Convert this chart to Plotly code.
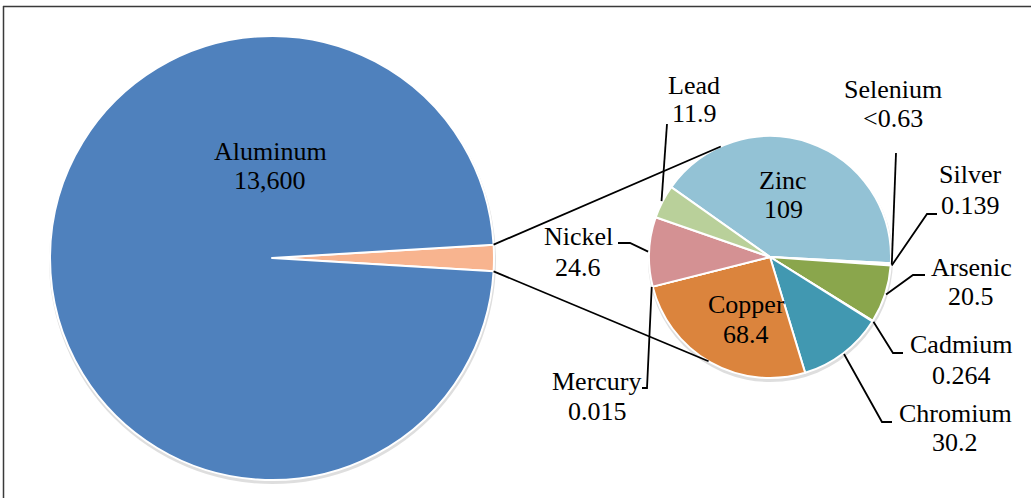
import math
import plotly.graph_objects as go

# ---------------- data ----------------
aluminum_label = "Aluminum"
aluminum_value = 13600
aluminum_text = "13,600"

detail_labels = ["Zinc", "Selenium", "Silver", "Arsenic", "Cadmium",
                 "Chromium", "Copper", "Mercury", "Nickel", "Lead"]
detail_values = [109, 0.63, 0.139, 20.5, 0.264, 30.2, 68.4, 0.015, 24.6, 11.9]
detail_text = ["109", "<0.63", "0.139", "20.5", "0.264",
               "30.2", "68.4", "0.015", "24.6", "11.9"]

# ---------------- layout constants (pixels) ----------------
W, H = 1031, 498
MAIN_C, MAIN_R = (272, 258), 222
SUB_C, SUB_R = (770, 257), 121
SUB_START = 144.7          # math angle (deg) where first detail slice starts
CONNECT_ANG = (114.0, 239.5)  # where connector lines meet the detail pie

main_colors = ["#F8B48F", "#4F81BD"]
detail_colors = ["#93C2D5", "#B7CFE0", "#9DB86B", "#8AA64C", "#C9D9A9",
                 "#4198B1", "#DB843D", "#E3A37C", "#D49193", "#B9D09A"]

FONT = "Liberation Serif"
FS = 26

# label positions: (center x, name y, value y) in pixels
label_pos = {
    "Aluminum": (270, 151, 180),
    "Zinc": (783, 180, 209),
    "Copper": (746, 304, 334),
    "Lead": (694, 85, 114),
    "Selenium": (893, 89, 118),
    "Silver": (970, 175, 205),
    "Arsenic": (971, 267, 296),
    "Cadmium": (961, 344, 375),
    "Chromium": (955, 413, 442),
    "Mercury": (597, 381, 411),
    "Nickel": (578, 237, 267),
}
# leader line bends (pixels), start point computed from slice angle
leaders = {
    "Lead": [(667, 124)],
    "Selenium": [(896, 153)],
    "Silver": [(927, 214), (937, 214)],
    "Arsenic": [(913, 275), (925, 275)],
    "Cadmium": [(893, 353), (903, 353)],
    "Chromium": [(882, 422), (892, 422)],
    "Mercury": [(647, 388), (642, 388)],
    "Nickel": [(630, 243), (618, 243)],
}


def fx(x):
    return x / W


def fy(y):
    return 1 - y / H


def dom(c, r):
    return dict(x=[fx(c[0] - r), fx(c[0] + r)], y=[fy(c[1] + r), fy(c[1] - r)])


def edge(c, r, ang):
    a = math.radians(ang)
    return (c[0] + r * math.cos(a), c[1] - r * math.sin(a))


other_total = sum(detail_values)
main_values = [other_total, aluminum_value]
main_total = sum(main_values)
other_span = 360 * other_total / main_total

fig = go.Figure()
fig.add_trace(go.Pie(
    labels=["Other", aluminum_label], values=main_values, sort=False,
    direction="clockwise", rotation=90 - other_span / 2,
    marker=dict(colors=main_colors, line=dict(color="white", width=2)),
    textinfo="none", domain=dom(MAIN_C, MAIN_R), showlegend=False,
))
fig.add_trace(go.Pie(
    labels=detail_labels, values=detail_values, sort=False,
    direction="clockwise", rotation=90 - SUB_START,
    marker=dict(colors=detail_colors, line=dict(color="white", width=2)),
    textinfo="none", domain=dom(SUB_C, SUB_R), showlegend=False,
))

shapes = []
# frame (partially cropped)
shapes.append(dict(type="line", xref="paper", yref="paper", x0=fx(3.5), x1=fx(3.5),
                   y0=fy(6), y1=0, line=dict(color="#3a3a3a", width=1.5)))
shapes.append(dict(type="line", xref="paper", yref="paper", x0=fx(3), x1=1,
                   y0=fy(6.5), y1=fy(6.5), line=dict(color="#3a3a3a", width=1.5)))
# soft shadows
for c, r in ((MAIN_C, MAIN_R), (SUB_C, SUB_R)):
    shapes.append(dict(type="circle", xref="paper", yref="paper", layer="below",
                       x0=fx(c[0] - r - 1), x1=fx(c[0] + r + 2),
                       y0=fy(c[1] + r + 4), y1=fy(c[1] - r + 1),
                       fillcolor="rgba(0,0,0,0.13)", line=dict(width=0)))

# connector lines between pies
p_top = edge(MAIN_C, MAIN_R, other_span / 2)
p_bot = edge(MAIN_C, MAIN_R, -other_span / 2)
q_top = edge(SUB_C, SUB_R, CONNECT_ANG[0])
q_bot = edge(SUB_C, SUB_R, CONNECT_ANG[1])
for p, q in ((p_top, q_top), (p_bot, q_bot)):
    shapes.append(dict(type="line", xref="paper", yref="paper",
                       x0=fx(p[0]), y0=fy(p[1]), x1=fx(q[0]), y1=fy(q[1]),
                       line=dict(color="black", width=1.8)))

# leader lines from slice mid angles
detail_total = sum(detail_values)
cum = 0
mid_ang = {}
for lab, v in zip(detail_labels, detail_values):
    start = SUB_START - 360 * cum / detail_total
    mid_ang[lab] = start - 180 * v / detail_total
    cum += v
for lab, pts in leaders.items():
    s = edge(SUB_C, SUB_R + 1, mid_ang[lab])
    path = "M {:.5f} {:.5f}".format(fx(s[0]), fy(s[1]))
    for (x, y) in pts:
        path += " L {:.5f} {:.5f}".format(fx(x), fy(y))
    shapes.append(dict(type="path", xref="paper", yref="paper", path=path,
                       line=dict(color="black", width=1.8)))

annotations = []
texts = dict(zip(detail_labels, detail_text))
texts[aluminum_label] = aluminum_text
for lab, (cx, y1, y2) in label_pos.items():
    for t, yy in ((lab, y1), (texts[lab], y2)):
        annotations.append(dict(text=t.replace("<", "&lt;"), xref="paper", yref="paper",
                                x=fx(cx), y=fy(yy), xanchor="center", yanchor="middle",
                                showarrow=False,
                                font=dict(family=FONT, size=FS, color="black")))

fig.update_layout(
    width=W, height=H, margin=dict(l=0, r=0, t=0, b=0),
    paper_bgcolor="white", plot_bgcolor="white",
    font=dict(family=FONT),
    shapes=shapes, annotations=annotations,
)
fig.write_html("out.html", config={"displayModeBar": False},
               post_script="document.body.style.margin='0';document.body.style.overflow='hidden';")
